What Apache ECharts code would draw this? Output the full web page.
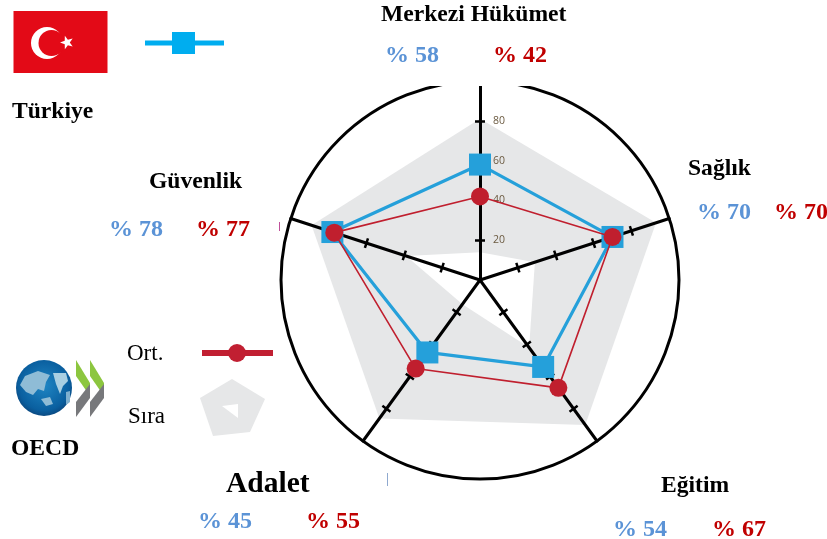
<!DOCTYPE html>
<html>
<head>
<meta charset="utf-8">
<style>html,body{margin:0;padding:0;background:#fff}#c{width:827px;height:539px}</style>
<script src="https://cdn.jsdelivr.net/npm/echarts@6/dist/echarts.min.js"></script>
</head>
<body>
<div id="c"></div>
<script>
// Spokes run counter-clockwise from the top in the radar component.
const categories = ['Merkezi Hükümet', 'Güvenlik', 'Adalet', 'Eğitim', 'Sağlık'];
const turkiye = [58, 78, 45, 54, 70];
const ortalama = [42, 77, 55, 67, 70];
const siraUst = [81, 89, 86, 90, 93];
const siraAlt = [14, 39, 15, 42, 29];
const tickLabels = [20, 40, 60, 80];
const serif = '"Liberation Serif", serif';
const BLUE = '#5b93d6', RED = '#c00000';

const chart = echarts.init(document.getElementById('c'), null, {renderer: 'canvas'});

const center = [480, 280];
const indicator = categories.map(name => ({name, min: 0, max: 100}));
const hiddenLine = {show: false};

function text(str, x, y, size, color, bold) {
  return {type: 'text', z: 60, style: {text: str, x, y: y + 2, fill: color, align: 'left', verticalAlign: 'middle',
    font: (bold ? 'bold ' : '') + size + 'px ' + serif}};
}
function poly(points, fill) {
  return {type: 'polygon', z: 60, shape: {points}, style: {fill}};
}
function pct(v, x, y, color) { return text('% ' + v, x, y, 24, color, true); }
// Five-pointed star outline, tip turned towards the crescent
function starPoints(cx, cy, r, r0, turn) {
  const pts = [];
  for (let k = 0; k < 10; k++) {
    const a = turn + k * Math.PI / 5, q = k % 2 ? r0 : r;
    pts.push([cx + q * Math.cos(a), cy + q * Math.sin(a)]);
  }
  return pts;
}

// Category captions with the two percentages under each one
const captionSpots = [
  {name: 381, y: 13, size: 23.6, a: 385, b: 493, vy: 54},
  {name: 149, y: 180, size: 23.6, a: 109, b: 196, vy: 228},
  {name: 226, y: 482, size: 29.5, a: 198, b: 306, vy: 520},
  {name: 661, y: 484, size: 23.6, a: 613, b: 712, vy: 528},
  {name: 688, y: 167, size: 23.6, a: 697, b: 774, vy: 211}
];
const captions = [];
categories.forEach((c, i) => {
  const s = captionSpots[i];
  captions.push(text(c, s.name, s.y, s.size, '#000', true));
  captions.push(pct(turkiye[i], s.a, s.vy, BLUE));
  captions.push(pct(ortalama[i], s.b, s.vy, RED));
});

// Turkish flag
const flag = [
  {type: 'rect', z: 60, shape: {x: 13.5, y: 11, width: 94, height: 62}, style: {fill: '#e30a17'}},
  {type: 'circle', z: 60, shape: {cx: 47, cy: 43, r: 16}, style: {fill: '#fff'}},
  {type: 'circle', z: 61, shape: {cx: 51.5, cy: 43, r: 13}, style: {fill: '#e30a17'}},
  {type: 'polygon', z: 62, shape: {points: starPoints(67, 42.5, 7, 2.8, Math.PI)}, style: {fill: '#fff'}}
];

// OECD mark: globe and double chevron
const oecd = [
  {type: 'circle', z: 60, shape: {cx: 44, cy: 388, r: 28}, style: {fill: new echarts.graphic.RadialGradient(0.5, 0.45, 0.6, [
    {offset: 0, color: '#1f86c4'}, {offset: 0.75, color: '#0a5f9f'}, {offset: 1, color: '#0b3f73'}])}},
  poly([[20,385],[25,376],[38,371],[50,375],[46,382],[44,391],[38,389],[33,395],[26,392]], '#8fbcd6'),
  poly([[53,373],[66,373],[68,381],[63,386],[60,394],[56,384]], '#a9cfe2'),
  poly([[41,399],[50,397],[53,404],[46,406]], '#8fbcd6'),
  poly([[66,392],[70,391],[70,402],[66,405]], '#7fb0cf'),
  poly([[76,360],[90,383],[90,396],[76,376]], '#8cc63f'),
  poly([[90,360],[104,383],[104,396],[90,376]], '#8cc63f'),
  poly([[76,402],[90,384],[90,398],[76,417]], '#77787b'),
  poly([[90,402],[104,384],[104,398],[90,417]], '#77787b')
];

// Legend keys
const keys = [
  {type: 'line', z: 60, shape: {x1: 145, y1: 43, x2: 224, y2: 43}, style: {stroke: '#00adef', lineWidth: 5}},
  {type: 'rect', z: 61, shape: {x: 172, y: 32, width: 23, height: 22}, style: {fill: '#00adef'}},
  {type: 'line', z: 60, shape: {x1: 202, y1: 353, x2: 273, y2: 353}, style: {stroke: '#c11f32', lineWidth: 6}},
  {type: 'circle', z: 61, shape: {cx: 237, cy: 353, r: 9}, style: {fill: '#c11f32'}},
  poly([[232,379],[265,399],[250,432],[213,436],[200,398]], '#e6e7e8'),
  {type: 'polygon', z: 61, shape: {points: [[222,406],[238,404],[238,418]]}, style: {fill: '#fff'}}
];

// Paper-white strip that trims the ring under the top caption, plus two stray specks
const trims = [
  {type: 'rect', z: 40, shape: {x: 380, y: 70, width: 200, height: 16}, style: {fill: '#fff'}},
  {type: 'line', z: 41, shape: {x1: 387.5, y1: 473, x2: 387.5, y2: 486}, style: {stroke: '#8fa9cf', lineWidth: 1}},
  {type: 'line', z: 41, shape: {x1: 279.5, y1: 222, x2: 279.5, y2: 231}, style: {stroke: '#c0509a', lineWidth: 1}}
];

chart.setOption({
  animation: false,
  backgroundColor: '#fff',
  radar: [
    // Carries the grey band and the outer ring
    {center, radius: 199, startAngle: 90, shape: 'circle', splitNumber: 1, z: 0, silent: true,
      indicator, axisName: {show: false}, axisLine: hiddenLine, axisTick: hiddenLine, axisLabel: hiddenLine,
      splitArea: hiddenLine, splitLine: {show: true, lineStyle: {color: '#000', width: 3}}},
    // Spokes, one tick half and the scale labels on the top spoke
    {center, radius: 199, startAngle: 90, splitNumber: 5, z: 2, silent: true,
      indicator: indicator.map((d, i) => i === 0 ? Object.assign({}, d, {
        axisLabel: {show: true, color: '#6b5a40', fontSize: 10.5, fontFamily: 'Open Sans', margin: -13, align: 'left',
          customValues: tickLabels, formatter: v => String(v)}
      }) : d),
      axisName: {show: false}, splitArea: hiddenLine, splitLine: hiddenLine,
      axisLine: {show: true, lineStyle: {color: '#000', width: 3}},
      axisTick: {show: true, length: 5, customValues: tickLabels, lineStyle: {color: '#000', width: 2.5}},
      axisLabel: hiddenLine},
    // The other tick half
    {center, radius: 199, startAngle: 90, splitNumber: 5, z: 2, silent: true,
      indicator, axisName: {show: false}, splitArea: hiddenLine, splitLine: hiddenLine,
      axisLine: hiddenLine, axisLabel: hiddenLine,
      axisTick: {show: true, length: -5, customValues: tickLabels, lineStyle: {color: '#000', width: 2.5}}}
  ],
  series: [
    {type: 'radar', radarIndex: 0, z: 1, silent: true, symbol: 'none',
      lineStyle: {width: 0}, areaStyle: {color: '#e6e7e8', opacity: 1}, data: [{value: siraUst}]},
    {type: 'radar', radarIndex: 0, z: 1, silent: true, symbol: 'none',
      lineStyle: {width: 0}, areaStyle: {color: '#fff', opacity: 1}, data: [{value: siraAlt}]},
    {type: 'radar', radarIndex: 1, z: 3, silent: true, symbol: 'rect', symbolSize: 22,
      itemStyle: {color: '#25a0da'}, lineStyle: {color: '#25a0da', width: 3.2}, data: [{name: 'Türkiye', value: turkiye}]},
    {type: 'radar', radarIndex: 1, z: 4, silent: true, symbol: 'circle', symbolSize: 18,
      itemStyle: {color: '#c01f2e'}, lineStyle: {color: '#c01f2e', width: 1.6}, data: [{name: 'Ort.', value: ortalama}]}
  ],
  graphic: {z: 50, elements: [
    ...trims, ...flag, ...oecd, ...keys, ...captions,
    text('Türkiye', 12, 110, 23.6, '#000', true),
    text('OECD', 11, 447, 23.6, '#000', true),
    text('Ort.', 127, 352, 23, '#000', false),
    text('Sıra', 128, 415, 23, '#000', false)
  ]}
});
</script>
</body>
</html>
